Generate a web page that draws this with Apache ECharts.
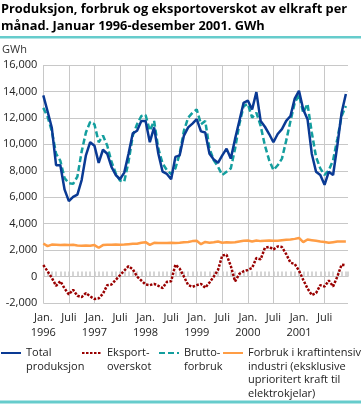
<!DOCTYPE html>
<html><head><meta charset="utf-8">
<script src="https://cdn.jsdelivr.net/npm/echarts@6/dist/echarts.min.js"></script>
<style>html,body{margin:0;padding:0;background:#fff}#c{width:361px;height:404px}</style>
</head><body><div id="c"></div>
<script>
// Monthly data Jan 1996 - Dec 2001 (GWh)
const totalProduksjon = [
  13700, 12500, 11250, 8420, 8420, 6570, 5700, 6020, 6200, 7300, 9170, 10160,
  9900, 8600, 9590, 9290, 8300, 7680, 7360, 7860, 9290, 10830, 11030, 11770,
  11770, 10160, 11280, 9290, 7930, 7760, 7360, 9050, 9170, 10660, 11280, 11570,
  11900, 10980, 10900, 9290, 8850, 8600, 9170, 9670, 8920, 10410, 11770, 13140,
  13310, 12640, 13950, 11770, 11330, 10780, 10160, 10780, 11150, 11770, 12140, 13460,
  14050, 12640, 11900, 9290, 7930, 7680, 6940, 7930, 7680, 9910, 12390, 13800
];
const eksportoverskot = [
  870, 400, -100, -700, -350, -900, -1350, -1000, -1450, -1550, -1250, -1500,
  -1700, -1650, -1300, -650, -600, -250, 100, 450, 780, 550, 0, -300,
  -600, -650, -550, -700, -870, -400, -350, 900, 600, 0, -650, -780,
  -650, -550, -850, -450, 0, 500, 1600, 1650, 800, -370, 200, 400,
  500, 650, 1400, 1300, 2180, 2250, 2050, 2280, 2230, 1700, 1050, 950,
  450, -250, -900, -1400, -1250, -650, -750, -300, -750, 0, 900, 850
];
const bruttoforbruk = [
  12760, 12100, 11000, 9290, 8750, 7440, 7060, 7010, 7560, 9450, 10900, 11700,
  11520, 10160, 10660, 9910, 8680, 7810, 7260, 7190, 8680, 10660, 11520, 12140,
  12220, 11030, 11770, 9670, 8550, 8050, 7760, 8180, 9290, 11030, 12020, 12390,
  12640, 11520, 11770, 9670, 8800, 8300, 7680, 7930, 8180, 9670, 11520, 12890,
  13060, 12020, 12390, 11400, 9910, 8800, 8050, 8420, 8920, 10280, 11770, 13140,
  13750, 12390, 13060, 10900, 9050, 8180, 7680, 8050, 8800, 10410, 12140, 12900
];
const kraftintensivIndustri = [
  2500, 2300, 2420, 2400, 2380, 2400, 2380, 2400, 2350, 2330, 2350, 2330,
  2380, 2180, 2380, 2400, 2400, 2420, 2400, 2420, 2450, 2480, 2480, 2550,
  2600, 2400, 2550, 2530, 2530, 2530, 2550, 2530, 2550, 2600, 2620, 2680,
  2700, 2450, 2620, 2560, 2600, 2650, 2560, 2600, 2580, 2600, 2650, 2700,
  2720, 2650, 2720, 2680, 2700, 2720, 2700, 2700, 2750, 2780, 2800, 2850,
  2920, 2600, 2800, 2750, 2700, 2650, 2620, 2550, 2600, 2650, 2650, 2650
];
const xTickLabels = ['Jan.\n1996','Juli','Jan.\n1997','Juli','Jan.\n1998','Juli',
  'Jan.\n1999','Juli','Jan.\n2000','Juli','Jan.\n2001','Juli'];
const seriesNames = ['Total\nproduksjon', 'Eksport-\noverskot', 'Brutto-\nforbruk',
  'Forbruk i kraftintensiv\nindustri (eksklusive\nuprioritert kraft til\nelektrokjelar)'];
const titleText = 'Produksjon, forbruk og eksportoverskot av elkraft per\nmånad. Januar 1996-desember 2001. GWh';
const unitText = 'GWh';

const FONT = 'Open Sans';
const colors = { total: '#0a3a94', eksport: '#990000', brutto: '#139e9e', forbruk: '#ff9d45' };

function pairs(arr) { return arr.map((v, i) => [i, v]); }

// One legend per item; blank leading lines keep the icon level with the first text line
function legendAt(name, left, lines) {
  const L = 13.5;
  const iconCenterY = 353;
  return {
    data: [name], left: left, top: iconCenterY - (2 * lines - 1) * L / 2, padding: 0,
    itemWidth: 20, itemHeight: 10, selectedMode: false,
    itemStyle: { opacity: 0, borderWidth: 0 },
    lineStyle: { width: 2 },
    formatter: n => '\n'.repeat(lines - 1) + n,
    textStyle: { fontFamily: FONT, fontSize: 11, color: '#222', lineHeight: L }
  };
}

const chart = echarts.init(document.getElementById('c'), null, { renderer: 'canvas' });
chart.setOption({
  animation: false,
  backgroundColor: '#fff',
  title: [
    { text: titleText, left: 1, top: 1, padding: 0,
      textStyle: { fontFamily: FONT, fontSize: 12.8, fontWeight: 'bold', color: '#000', lineHeight: 17 } },
    { text: unitText, left: 2, top: 44, padding: 0,
      textStyle: { fontFamily: FONT, fontSize: 11, fontWeight: 'normal', color: '#333', lineHeight: 12 } }
  ],
  graphic: [
    { type: 'rect', left: 0, top: 36, shape: { width: 361, height: 2.5 }, style: { fill: '#66cccc' } },
    { type: 'rect', left: 0, top: 400.5, shape: { width: 361, height: 3 }, style: { fill: '#66cccc' } }
  ],
  legend: [
    legendAt(seriesNames[0], 0, 2),
    legendAt(seriesNames[1], 81, 2),
    legendAt(seriesNames[2], 158, 2),
    legendAt(seriesNames[3], 222, 4)
  ],
  grid: { left: 39.3, right: 13, top: 65, bottom: 101, containLabel: false },
  xAxis: [
    { type: 'value', min: 0, max: 71.5, interval: 6, position: 'bottom',
      axisLine: { show: false, onZero: false }, axisTick: { show: false },
      splitLine: { show: true, showMaxLine: false, lineStyle: { color: '#c8c8c8', width: 1 } },
      axisLabel: { show: true, showMaxLabel: false, margin: 7, fontFamily: FONT, fontSize: 11, color: '#222', lineHeight: 15,
        verticalAlign: 'top',
        formatter: v => { const k = Math.round(v / 6); return (v % 6 === 0 && xTickLabels[k]) ? xTickLabels[k] : ''; } } },
    { type: 'value', min: 0, max: 71.5, interval: 1, position: 'bottom',
      axisLine: { show: true, onZero: true, lineStyle: { color: '#c8c8c8', width: 1 } },
      axisTick: { show: true, inside: true, length: 5, lineStyle: { color: '#c8c8c8', width: 1.5 } },
      axisLabel: { show: false }, splitLine: { show: false } }
  ],
  yAxis: {
    type: 'value', min: -2000, max: 16000, interval: 2000,
    axisLine: { show: false }, axisTick: { show: false },
    splitLine: { lineStyle: { color: '#c8c8c8', width: 1 } },
    axisLabel: { fontFamily: FONT, fontSize: 11, color: '#222', margin: 6 }
  },
  series: [
    { name: seriesNames[3], type: 'line', xAxisIndex: 0, data: pairs(kraftintensivIndustri), symbol: 'none',
      lineStyle: { color: colors.forbruk, width: 2.5 }, itemStyle: { color: colors.forbruk } },
    { name: seriesNames[1], type: 'line', xAxisIndex: 0, data: pairs(eksportoverskot), symbol: 'none',
      lineStyle: { color: colors.eksport, width: 2.5, type: [2.5, 1.5] }, itemStyle: { color: colors.eksport } },
    { name: seriesNames[2], type: 'line', xAxisIndex: 0, data: pairs(bruttoforbruk), symbol: 'none',
      lineStyle: { color: colors.brutto, width: 2.5, type: [6, 3] }, itemStyle: { color: colors.brutto } },
    { name: seriesNames[0], type: 'line', xAxisIndex: 0, data: pairs(totalProduksjon), symbol: 'none',
      lineStyle: { color: colors.total, width: 2.5 }, itemStyle: { color: colors.total } }
  ]
});
</script>
</body></html>
